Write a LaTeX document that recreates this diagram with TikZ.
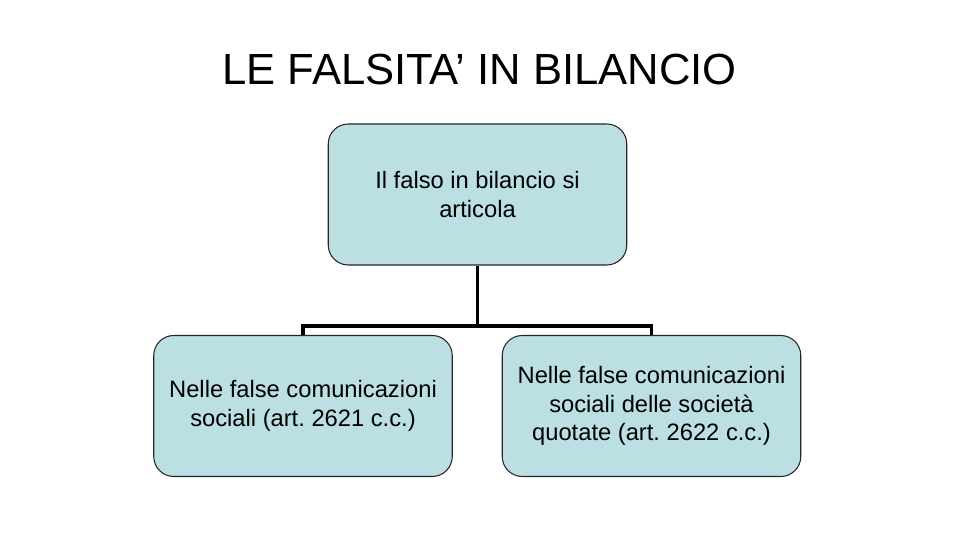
\documentclass[tikz,border=0pt]{standalone}
\usepackage{fontspec}
\setmainfont{Liberation Sans}
\usepackage{xcolor}
\usepackage{tikz}
\usetikzlibrary{positioning}
\frenchspacing
\definecolor{boxblue}{HTML}{BCDFE3}
\tikzset{box/.style={draw=black!85,line width=0.6pt,fill=boxblue,rounded corners=0.4cm,minimum width=5.97cm,minimum height=2.82cm,align=center,font=\fontsize{13.5}{16.3}\selectfont},
  conn/.style={line width=1.8pt,black}}

\begin{document}
\begin{tikzpicture}
    \useasboundingbox (0,0) rectangle (19.2,10.8);
    \node[anchor=base,font=\fontsize{24.8}{30}\selectfont] (title) at (9.59,9.1) {LE FALSITA’ IN BILANCIO};

    \node[box] (top) at (9.55,6.91) {Il falso in bilancio si\\articola};
    \node[box] (left) at (6.06,2.68) {Nelle false comunicazioni\\sociali (art. 2621 c.c.)};
    \node[box] (right) at (13.03,2.68) {Nelle false comunicazioni\\sociali delle società\\quotate (art. 2622 c.c.)};
    \coordinate (bar) at (9.55,4.28);

    \draw [conn] (top) -- (bar);
    \draw [conn] (left) |- (bar) -| (right);
\end{tikzpicture}
\end{document}
